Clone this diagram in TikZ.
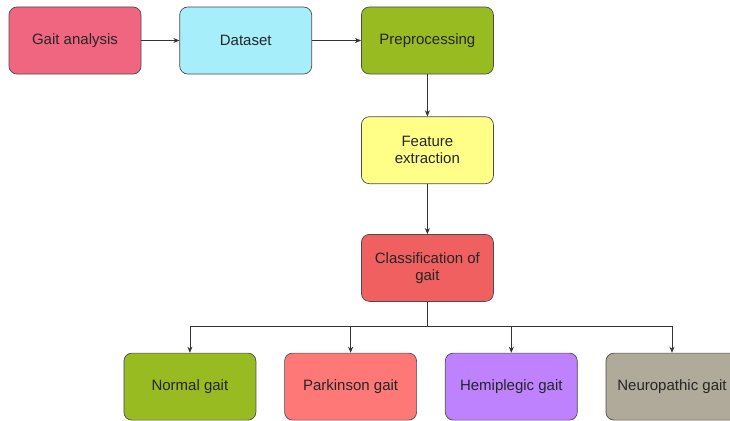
\documentclass[tikz,border=0pt]{standalone}
\usepackage{fontspec}
\setmainfont{Liberation Sans}
\usetikzlibrary{positioning,arrows.meta}

\definecolor{gaitpink}{RGB}{240,102,128}
\definecolor{datacyan}{RGB}{166,238,250}
\definecolor{prepgreen}{RGB}{153,187,34}
\definecolor{featyellow}{RGB}{255,255,136}
\definecolor{classred}{RGB}{240,96,96}
\definecolor{parkred}{RGB}{255,120,120}
\definecolor{hemiviolet}{RGB}{190,130,255}
\definecolor{neurogray}{RGB}{176,170,155}

\begin{document}
\begin{tikzpicture}[x=1pt, y=1pt, >={Stealth[length=6pt,width=5pt]},
	main node/.style={rectangle, rounded corners=8pt, draw=black!70, line width=0.7pt,
		minimum width=132pt, minimum height=67pt, align=center, text=black!85,
		font=\fontsize{15}{17}\selectfont},
	link/.style={->, line width=0.7pt, draw=black!80}]

	\useasboundingbox (0,0) rectangle (730,-420);

	\node[main node, fill=gaitpink] (ga) at (75,-40.5) {Gait analysis};
	\node[main node, fill=datacyan] (ds) [right=38pt of ga] {Dataset};
	\node[main node, fill=prepgreen] (pp) [right=49pt of ds] {Preprocessing};
	\node[main node, fill=featyellow] (fe) [below=42pt of pp] {Feature\\extraction};
	\node[main node, fill=classred] (cg) [below=50pt of fe] {Classification of\\gait};

	\node[main node, fill=prepgreen] (ng) [below=51pt of cg, xshift=-237.5pt] {Normal gait};
	\node[main node, fill=parkred] (pg) [right=28pt of ng] {Parkinson gait};
	\node[main node, fill=hemiviolet] (hg) [right=28pt of pg] {Hemiplegic gait};
	\node[main node, fill=neurogray] (npg) [right=28pt of hg] {Neuropathic gait};

	\coordinate[below=25pt of cg.south] (split);

	\draw[link] (ga) -- (ds);
	\draw[link] (ds) -- (pp);
	\draw[link] (pp) -- (fe);
	\draw[link] (fe) -- (cg);
	\draw[line width=0.7pt, draw=black!80] (cg) -- (split);
	\foreach \g in {ng,pg,hg,npg}
		\draw[link] (split) -| (\g.north);

\end{tikzpicture}
\end{document}
